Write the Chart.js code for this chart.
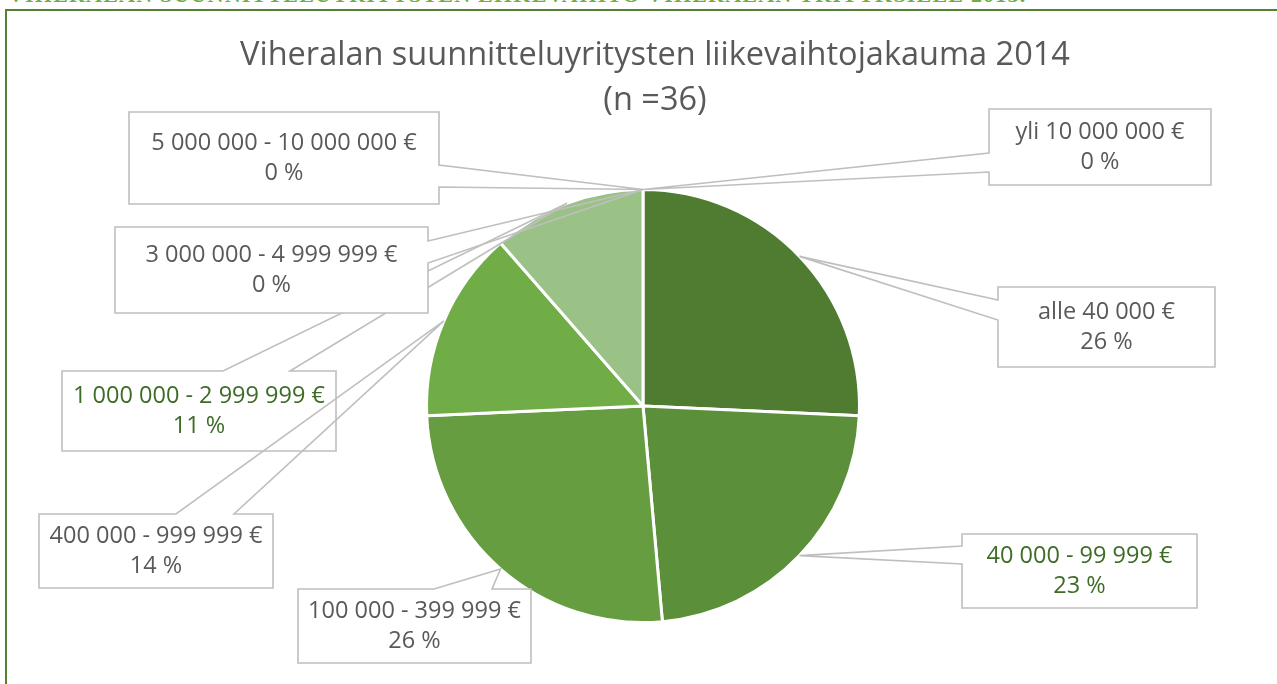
<!DOCTYPE html>
<html>
<head>
<meta charset="utf-8">
<script src="https://cdn.jsdelivr.net/npm/chart.js@4.4.1/dist/chart.umd.min.js"></script>
<style>
  html, body { margin: 0; padding: 0; background: #fff; }
  #wrap { position: relative; width: 1277px; height: 684px; overflow: hidden; background: #fff; }
  #topText { position: absolute; left: 8px; top: -18px; font: bold 22px "Liberation Serif", serif; color: #70ad47; white-space: nowrap; letter-spacing: 1.2px; }
  #frame { position: absolute; left: 5px; top: 9px; width: 1280px; height: 690px; border-top: 2px solid #548235; border-left: 2px solid #548235; }
  canvas { position: absolute; left: 0; top: 0; }
</style>
</head>
<body>
<div id="wrap">
  <div id="topText">VIHERALAN SUUNNITTELUYRITYSTEN LIIKEVAIHTO VIHERALAN YRITYKSILLE 2015.</div>
  <div id="frame"></div>
  <canvas id="c" width="1277" height="684"></canvas>
</div>
<script>
// ---- data ----
const titleLines = ['Viheralan suunnitteluyritysten liikevaihtojakauma 2014', '(n =36)'];
const categories = [
  'alle 40 000 €',
  '40 000 - 99 999 €',
  '100 000 - 399 999 €',
  '400 000 - 999 999 €',
  '1 000 000 - 2 999 999 €',
  '3 000 000 - 4 999 999 €',
  '5 000 000 - 10 000 000 €',
  'yli 10 000 000 €'
];
const companies = [9, 8, 9, 5, 4, 0, 0, 0];

// ---- styles / layout (not data) ----
const sliceColors = ['#507c32', '#5b8f3a', '#679d41', '#70ad47', '#9bc286', '#b5d3a6', '#c5dcb9', '#d4e6cb'];
const labelColors = ['#595959', '#3e6b26', '#595959', '#595959', '#3e6b26', '#595959', '#595959', '#595959'];
// callout boxes: x, y, w, h, side of wedge, wedge base offsets along that side
const labelBoxes = [
  { x: 998, y: 287, w: 217, h: 80, side: 'left',  a: 13, b: 33 },
  { x: 962, y: 534, w: 235, h: 74, side: 'left',  a: 12, b: 30 },
  { x: 298, y: 589, w: 233, h: 74, side: 'top',   a: 136, b: 194 },
  { x: 39,  y: 514, w: 234, h: 74, side: 'top',   a: 137, b: 195 },
  { x: 62,  y: 371, w: 274, h: 80, side: 'top',   a: 161, b: 228 },
  { x: 115, y: 227, w: 313, h: 86, side: 'right', a: 14, b: 36 },
  { x: 129, y: 112, w: 310, h: 92, side: 'right', a: 53, b: 75 },
  { x: 989, y: 109, w: 222, h: 76, side: 'left',  a: 44, b: 63 }
];
const drawOrder = [4, 3, 0, 1, 2, 5, 6, 7];

const total = companies.reduce((s, v) => s + v, 0);

const calloutPlugin = {
  id: 'callouts',
  afterDraw(chart) {
    const ctx = chart.ctx;
    // title
    ctx.save();
    ctx.fillStyle = '#595959';
    ctx.font = '32.5px "Open Sans", sans-serif';
    ctx.textAlign = 'center';
    ctx.textBaseline = 'middle';
    ctx.fillText(titleLines[0], 655, 56);
    ctx.fillText(titleLines[1], 655, 101);
    ctx.restore();

    const meta = chart.getDatasetMeta(0);
    drawOrder.forEach(i => {
      const arc = meta.data[i];
      const p = arc.getProps(['x', 'y', 'startAngle', 'endAngle', 'outerRadius'], true);
      const mid = (p.startAngle + p.endAngle) / 2;
      const ax = p.x + Math.cos(mid) * p.outerRadius;
      const ay = p.y + Math.sin(mid) * p.outerRadius;
      const b = labelBoxes[i];
      const x0 = b.x, y0 = b.y, x1 = b.x + b.w, y1 = b.y + b.h;
      ctx.save();
      ctx.fillStyle = '#ffffff';
      ctx.fillRect(x0, y0, b.w, b.h);
      ctx.beginPath();
      ctx.moveTo(x0, y0);
      if (b.side === 'top') { ctx.lineTo(x0 + b.a, y0); ctx.lineTo(ax, ay); ctx.lineTo(x0 + b.b, y0); }
      ctx.lineTo(x1, y0);
      if (b.side === 'right') { ctx.lineTo(x1, y0 + b.a); ctx.lineTo(ax, ay); ctx.lineTo(x1, y0 + b.b); }
      ctx.lineTo(x1, y1);
      if (b.side === 'bottom') { ctx.lineTo(x0 + b.b, y1); ctx.lineTo(ax, ay); ctx.lineTo(x0 + b.a, y1); }
      ctx.lineTo(x0, y1);
      if (b.side === 'left') { ctx.lineTo(x0, y0 + b.b); ctx.lineTo(ax, ay); ctx.lineTo(x0, y0 + b.a); }
      ctx.closePath();
      ctx.strokeStyle = '#bfbfbf';
      ctx.lineWidth = 1.6;
      ctx.lineJoin = 'miter';
      ctx.stroke();
      // text
      const pct = Math.round(companies[i] / total * 100) + ' %';
      ctx.fillStyle = labelColors[i];
      ctx.font = '23.5px "Open Sans", sans-serif';
      ctx.textAlign = 'center';
      ctx.textBaseline = 'middle';
      const cx = x0 + b.w / 2, cy = y0 + b.h / 2;
      ctx.fillText(categories[i], cx, cy - 15);
      ctx.fillText(pct, cx, cy + 15);
      ctx.restore();
    });
  }
};

new Chart(document.getElementById('c'), {
  type: 'pie',
  data: {
    labels: categories,
    datasets: [{
      data: companies,
      backgroundColor: sliceColors,
      borderColor: '#ffffff',
      borderWidth: 3
    }]
  },
  options: {
    responsive: false,
    devicePixelRatio: 1,
    animation: false,
    layout: { padding: { left: 425, right: 416, top: 188, bottom: 60 } },
    plugins: {
      legend: { display: false },
      tooltip: { enabled: false },
      title: { display: false }
    }
  },
  plugins: [calloutPlugin]
});
</script>
</body>
</html>
